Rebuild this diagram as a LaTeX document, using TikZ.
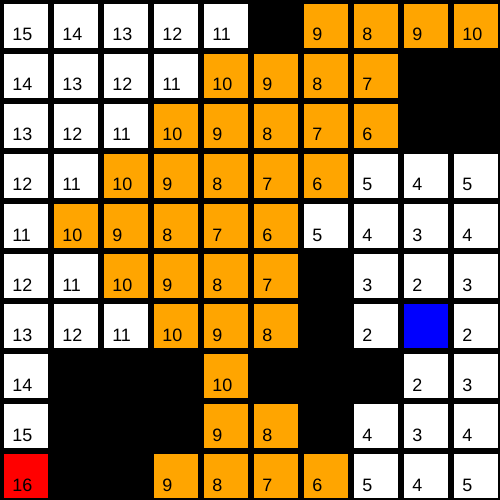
\documentclass[tikz,border=0pt]{standalone}
\usepackage{fontspec}
\setmainfont{Liberation Sans}
\definecolor{pathorange}{RGB}{255,165,0}
\begin{document}
\begin{tikzpicture}[
        x=1cm, y=-1cm,
        every node/.style={font=\fontsize{10.2}{12}\selectfont},
        cell/.style={rectangle, draw=none, minimum size=0.88cm, inner sep=0pt},
        cellw/.style={cell, fill=white},
        cello/.style={cell, fill=pathorange},
        cellb/.style={cell, fill=blue},
        cellr/.style={cell, fill=red},
        num/.style={anchor=base west, inner sep=0pt, text=black}
        ]

        % Black board
        \fill[black] (0,0) rectangle (10,10);

        % Rows of the grid (k = wall, left black)
        \foreach \r/\line in {
            0/{15/w,14/w,13/w,12/w,11/w,/k,9/o,8/o,9/o,10/o},
            1/{14/w,13/w,12/w,11/w,10/o,9/o,8/o,7/o,/k,/k},
            2/{13/w,12/w,11/w,10/o,9/o,8/o,7/o,6/o,/k,/k},
            3/{12/w,11/w,10/o,9/o,8/o,7/o,6/o,5/w,4/w,5/w},
            4/{11/w,10/o,9/o,8/o,7/o,6/o,5/w,4/w,3/w,4/w},
            5/{12/w,11/w,10/o,9/o,8/o,7/o,/k,3/w,2/w,3/w},
            6/{13/w,12/w,11/w,10/o,9/o,8/o,/k,2/w,/b,2/w},
            7/{14/w,/k,/k,/k,10/o,/k,/k,/k,2/w,3/w},
            8/{15/w,/k,/k,/k,9/o,8/o,/k,4/w,3/w,4/w},
            9/{16/r,/k,/k,9/o,8/o,7/o,6/o,5/w,4/w,5/w}}
        {
            \foreach \v/\k [count=\c from 0] in \line {
                \if\k k\else
                    \node[cell\k] (sq-\r-\c) at (\c+0.52, \r+0.52) {};
                    \node[num] (n-\r-\c) at (\c+0.24, \r+0.82) {\v};
                \fi
            }
        }

    \end{tikzpicture}
\end{document}
